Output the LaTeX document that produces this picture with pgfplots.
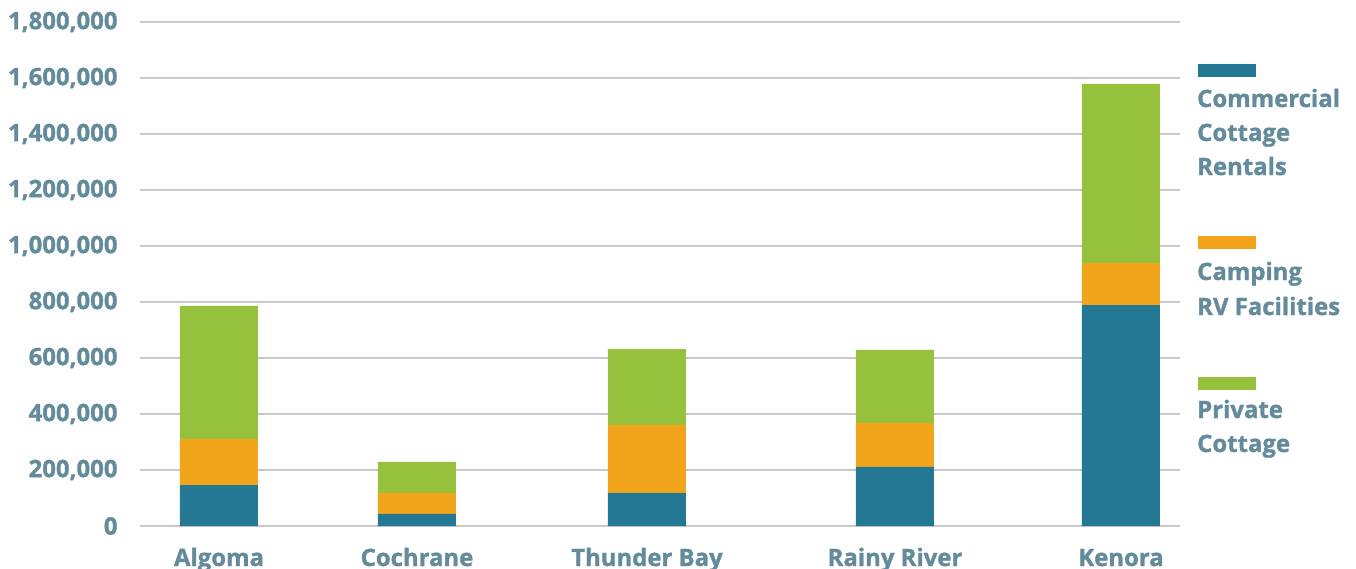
\documentclass[border=0pt]{standalone}
\usepackage{pgfplots}
\pgfplotsset{compat=1.18}
\usepackage{fontspec}
\setmainfont{Open Sans}[BoldFont={Open Sans Bold}, BoldFeatures={FakeBold=1.3}]
\definecolor{cblue}{HTML}{257893}
\definecolor{corange}{HTML}{F2A51B}
\definecolor{cgreen}{HTML}{95C13D}
\definecolor{ctext}{HTML}{638B9B}
\definecolor{cgrid}{HTML}{C8C8C8}
\begin{document}
\begin{tikzpicture}[x=1bp,y=1bp]
\path[use as bounding box] (-140bp,-43bp) rectangle (1216bp,526bp);
\begin{axis}[
  at={(0,0)}, anchor=origin,
  scale only axis, width=1040bp, height=504bp,
  xmin=0, xmax=1040, ymin=0, ymax=1800000,
  ybar stacked, bar width=78bp,
  axis line style={draw=none},
  xtick={79,277,507,755,981},
  xticklabels={Algoma,Cochrane,Thunder Bay,Rainy River,Kenora},
  ytick={0,200000,400000,600000,800000,1000000,1200000,1400000,1600000,1800000},
  major tick length=0pt,
  ymajorgrids, grid style={cgrid, line width=2bp},
  scaled y ticks=false,
  /pgf/number format/.cd, fixed, precision=0, 1000 sep={,}, assume math mode=true,
  /pgfplots/.cd,
  tick label style={font=\fontsize{24}{28}\selectfont\bfseries, text=ctext},
  yticklabel style={xshift=-19bp},
  xticklabel style={anchor=base, yshift=-40bp},
  clip=false,
]
\addplot[fill=cblue, draw=none] coordinates {(79,146000) (277,43000) (507,118000) (755,211000) (981,789000)};
\addplot[fill=corange, draw=none] coordinates {(79,165000) (277,75000) (507,243000) (755,157000) (981,150000)};
\addplot[fill=cgreen, draw=none] coordinates {(79,475000) (277,111000) (507,271000) (755,261000) (981,640000)};
\end{axis}
\begin{scope}[every node/.style={anchor=base west, inner sep=0pt, text=ctext, font=\fontsize{24}{28}\selectfont\bfseries}]
\fill[cblue] (1058,449) rectangle (1116,462);
\node at (1057,419) {Commercial};
\node at (1057,385) {Cottage};
\node at (1057,351) {Rentals};
\fill[corange] (1058,277) rectangle (1116,290);
\node at (1057,246) {Camping};
\node at (1057,211) {RV Facilities};
\fill[cgreen] (1058,136) rectangle (1116,149);
\node at (1057,108) {Private};
\node at (1057,74) {Cottage};
\end{scope}
\end{tikzpicture}
\end{document}
